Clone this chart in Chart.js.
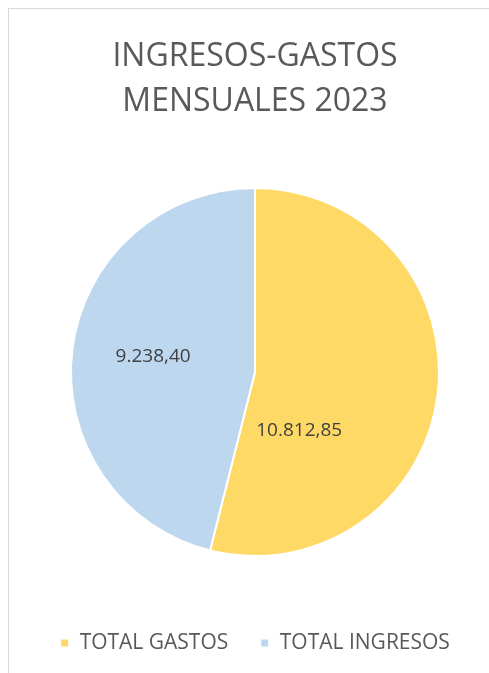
<!doctype html>
<html lang="es">
<head>
  <meta charset="utf-8">
  <title>Ingresos-Gastos mensuales 2023</title>
  <style>
    * { margin: 0; padding: 0; }
    body { background: white; overflow: hidden; }
    .chartBox {
      position: absolute;
      left: 8px;
      top: 8px;
      width: 492px;
      height: 700px;
      border: solid 1px #d9d9d9;
      background: white;
    }
  </style>
</head>
<body>
  <div class="chartBox">
    <canvas id="myChart" width="492" height="700"></canvas>
  </div>

  <script src="https://cdn.jsdelivr.net/npm/chart.js"></script>
  <script>
    // datos
    const categorias = ['TOTAL GASTOS', 'TOTAL INGRESOS'];
    const valores = [10812.85, 9238.40];
    const colores = ['#FFD966', '#BDD7EE'];

    // formato español: 10.812,85
    function formato(v) {
      return v.toLocaleString('es-ES', { minimumFractionDigits: 2, maximumFractionDigits: 2, useGrouping: 'always' });
    }

    // etiquetas de datos dentro de cada sector
    const etiquetas = {
      id: 'etiquetas',
      afterDatasetsDraw(chart, args, opts) {
        const ctx = chart.ctx;
        const meta = chart.getDatasetMeta(0);
        ctx.save();
        ctx.font = '19px "Open Sans"';
        ctx.fillStyle = '#404040';
        ctx.textAlign = 'center';
        ctx.textBaseline = 'middle';
        meta.data.forEach((arc, i) => {
          const p = opts.sitio[i];
          const a = arc.startAngle + (arc.endAngle - arc.startAngle) * p.t;
          const r = arc.outerRadius * p.k;
          ctx.fillText(formato(valores[i]), arc.x + Math.cos(a) * r, arc.y + Math.sin(a) * r);
        });
        ctx.restore();
      }
    };

    new Chart(document.getElementById('myChart'), {
      type: 'pie',
      data: {
        labels: categorias,
        datasets: [{
          data: valores,
          backgroundColor: colores,
          borderColor: '#ffffff',
          borderWidth: 2,
          radius: 184
        }]
      },
      options: {
        responsive: false,
        animation: false,
        layout: { padding: { bottom: 45.5 } },
        plugins: {
          title: {
            display: true,
            text: ['INGRESOS-GASTOS', 'MENSUALES 2023'],
            color: '#595959',
            font: { family: '"Open Sans"', size: 32, weight: 'normal', lineHeight: '45px' },
            padding: { top: 25, bottom: 19.5 }
          },
          legend: {
            position: 'bottom',
            labels: {
              color: '#595959',
              font: { family: '"Open Sans"', size: 21 },
              boxWidth: 9,
              boxHeight: 9,
              padding: 32
            }
          },
          tooltip: { enabled: false },
          etiquetas: {
            sitio: [{ t: 0.737, k: 0.40 }, { t: 0.51, k: 0.56 }]
          }
        }
      },
      plugins: [etiquetas]
    });
  </script>
</body>
</html>
